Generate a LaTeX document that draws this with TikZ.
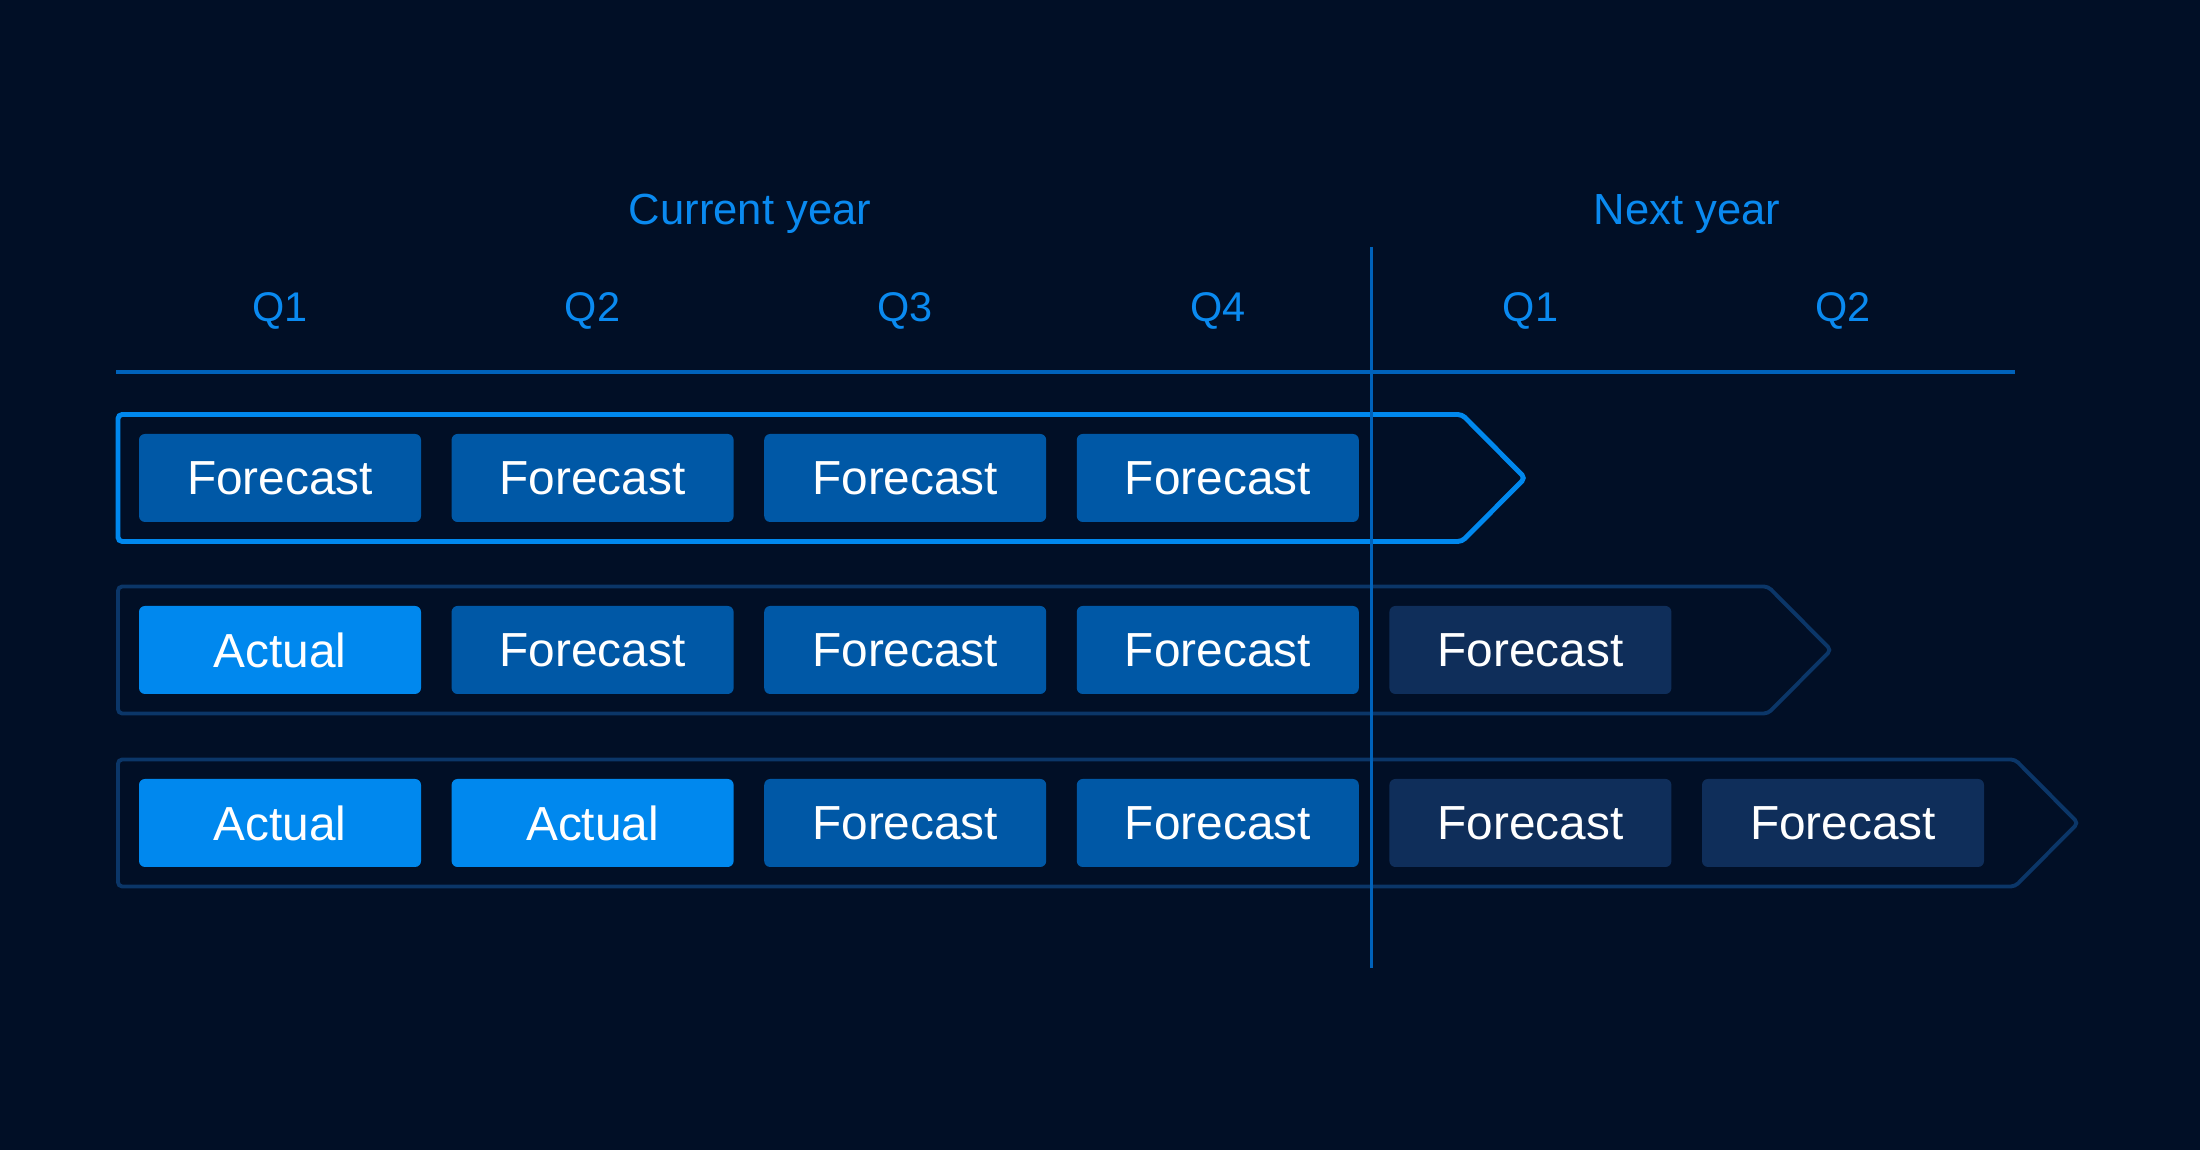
\documentclass[tikz,border=0pt]{standalone}
\usepackage{fontspec}
\setmainfont{Liberation Sans}

\definecolor{bgnavy}{RGB}{1,15,38}
\definecolor{actualblue}{RGB}{0,136,238}
\definecolor{fcastblue}{RGB}{0,88,166}
\definecolor{nextblue}{RGB}{15,46,90}
\definecolor{laneblue}{RGB}{11,54,104}
\definecolor{ruleblue}{RGB}{0,98,186}
\definecolor{labelblue}{RGB}{10,138,240}

\begin{document}
\begin{tikzpicture}[
  cell/.style={rounded corners=1.7pt, minimum width=2.82cm, minimum height=0.88cm, inner sep=0pt, text=white, font=\fontsize{13.6}{16}\selectfont},
  actual/.style={cell, fill=actualblue},
  fcnow/.style={cell, fill=fcastblue},
  fcnext/.style={cell, fill=nextblue},
  qlabel/.style={text=labelblue, font=\fontsize{11.8}{14}\selectfont},
  yearlabel/.style={text=labelblue, font=\fontsize{12.4}{15}\selectfont},
  lane/.style={line width=1.1pt, rounded corners=1.2pt, draw=laneblue},
  activelane/.style={lane, line width=1.4pt, draw=actualblue},
  rule/.style={draw=ruleblue, line width=1pt}
]
  % Canvas
  \fill[bgnavy] (0,0) rectangle (22,11.5);
  \useasboundingbox (0,0) rectangle (22,11.5);

  % Column grid
  \def\s{3.126}
  \def\cx{2.80}
  \def\ya{6.72}
  \def\yb{5.00}
  \def\yc{3.27}

  % Year headings
  \node[yearlabel] (cur) at (7.50, 9.36) {Current year};
  \node[yearlabel] (nxt) at (16.87, 9.36) {Next year};

  % Quarter headings: Q1..Q4 this year, Q1..Q2 next year
  \foreach \c/\q in {1/Q1, 2/Q2, 3/Q3, 4/Q4, 5/Q1, 6/Q2}
    \node[qlabel] (q\c) at ({\cx+(\c-1)*\s}, 8.39) {\q};

  % Rule under the headings
  \coordinate (hl) at (1.16, 7.78);
  \coordinate (hr) at (20.15, 7.78);
  \draw[rule] (hl) -- (hr);

  % Lanes (arrow-shaped frames)
  \draw[activelane] (1.18, \ya+0.635) -- (14.62, \ya+0.635) -- (15.25, \ya)
    -- (14.62, \ya-0.635) -- (1.18, \ya-0.635) -- cycle;
  \draw[lane] (1.18, \yb+0.635) -- (17.68, \yb+0.635) -- (18.31, \yb)
    -- (17.68, \yb-0.635) -- (1.18, \yb-0.635) -- cycle;
  \draw[lane] (1.18, \yc+0.635) -- (20.15, \yc+0.635) -- (20.78, \yc)
    -- (20.15, \yc-0.635) -- (1.18, \yc-0.635) -- cycle;

  % Row 1: four forecasts
  \foreach \c in {1,...,4}
    \node[fcnow] (a\c) at ({\cx+(\c-1)*\s}, \ya) {Forecast};

  % Row 2: one actual, rolling one quarter ahead
  \foreach \c/\kind/\txt in {1/actual/Actual, 2/fcnow/Forecast, 3/fcnow/Forecast, 4/fcnow/Forecast, 5/fcnext/Forecast}
    \node[\kind] (b\c) at ({\cx+(\c-1)*\s}, \yb) {\txt};

  % Row 3: two actuals, rolling two quarters ahead
  \foreach \c/\kind/\txt in {1/actual/Actual, 2/actual/Actual, 3/fcnow/Forecast, 4/fcnow/Forecast, 5/fcnext/Forecast, 6/fcnext/Forecast}
    \node[\kind] (c\c) at ({\cx+(\c-1)*\s}, \yc) {\txt};

  % Year boundary
  \coordinate (vt) at (13.71, 9.03);
  \coordinate (vb) at (13.71, 1.82);
  \draw[rule, line width=0.85pt] (vt) -- (vb);

\end{tikzpicture}
\end{document}
